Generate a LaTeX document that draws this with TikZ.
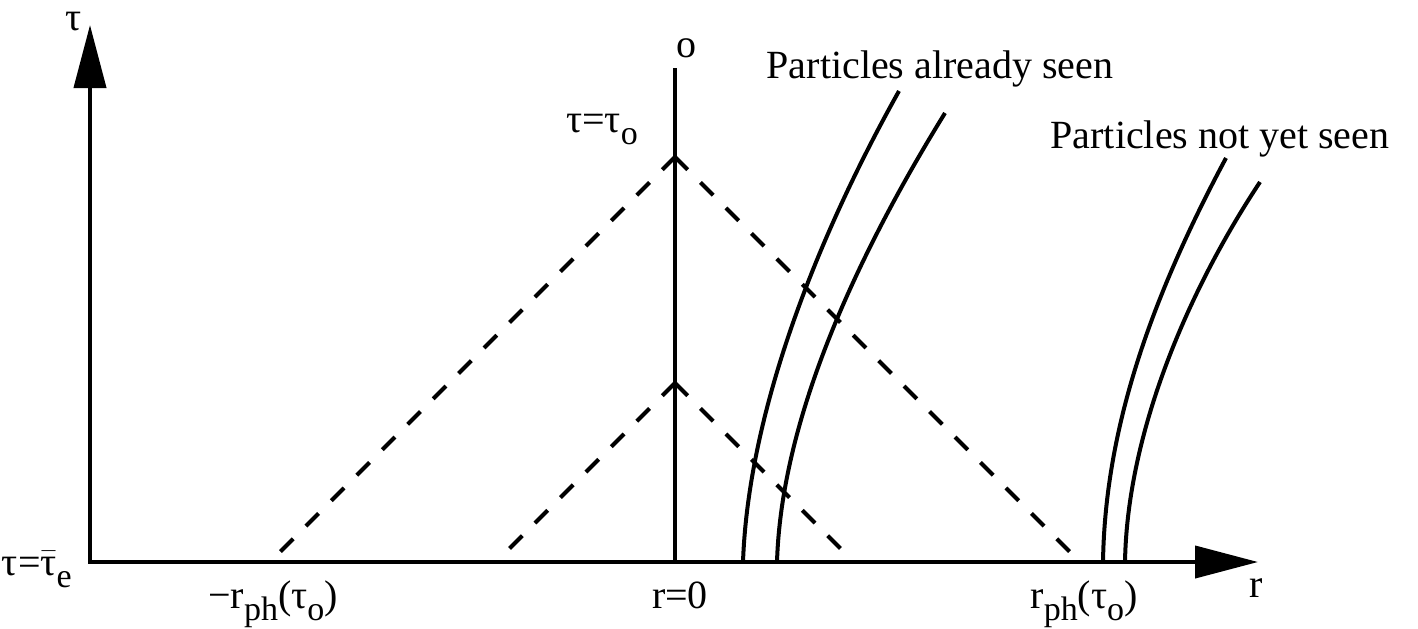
\documentclass[tikz,border=0pt]{standalone}
\usepackage{fontspec}
\setmainfont{Liberation Serif}
\usetikzlibrary{arrows.meta}
\newcommand{\lowsub}[1]{\raisebox{-6pt}{\fontsize{17}{17}\selectfont #1}}
\begin{document}
\begin{tikzpicture}[x=0.5pt,y=-0.5pt, line width=2pt,
  axes/.style={{Triangle[length=31.5pt,width=16pt]}-{Triangle[length=31.5pt,width=16pt]}, line join=miter},
  lightray/.style={dash pattern=on 9pt off 9pt},
  world/.style={line width=2pt},
  lbl/.style={inner sep=0pt, anchor=base, font=\fontsize{20}{24}\selectfont}]
\useasboundingbox (0,0) rectangle (1418,628);
% coordinates
\coordinate (O) at (90,562);
\coordinate (Ytip) at (90,25);
\coordinate (Xtip) at (1258,562);
\coordinate (Otop) at (675,68);
\coordinate (Obot) at (675,562);
\coordinate (A1) at (675,157);
\coordinate (L1) at (280,552);
\coordinate (R1) at (1070,552);
\coordinate (A2) at (675,383);
\coordinate (L2) at (505,553);
\coordinate (R2) at (845,553);
\coordinate (c1s) at (743,562);
\coordinate (c1e) at (899,91);
\coordinate (c2s) at (777,562);
\coordinate (c2e) at (945,113);
\coordinate (c3s) at (1103,562);
\coordinate (c3e) at (1226,158);
\coordinate (c4s) at (1125,562);
\coordinate (c4e) at (1260,182);
% axes
\draw[axes] (Ytip) -- (O) -- (Xtip);
% observer worldline
\draw (Obot) -- (Otop);
% light cones
\draw[lightray] (A1) -- (L1);
\draw[lightray] (A1) -- (R1);
\draw[lightray] (A2) -- (L2);
\draw[lightray] (A2) -- (R2);
% particle worldlines
\draw[world] (c1s) .. controls (748,420) and (810,250) .. (c1e);
\draw[world] (c2s) .. controls (781,430) and (845,275) .. (c2e);
\draw[world] (c3s) .. controls (1105,430) and (1150,300) .. (c3e);
\draw[world] (c4s) .. controls (1127,440) and (1182,300) .. (c4e);
% labels
\node[lbl] (taulbl) at (74,30) {τ};
\node[lbl, anchor=base west] (taue) at (0,575) {τ=$\bar{\hbox{τ}}$\lowsub{e}};
\node[lbl] (olbl) at (686,57) {o};
\node[lbl] (tauo) at (602,132) {τ=τ\lowsub{o}};
\node[lbl] (seen) at (940,78) {Particles already seen};
\node[lbl] (notseen) at (1220,148) {Particles not yet seen};
\node[lbl] (rlbl) at (1256,597) {r};
\node[lbl] (mrph) at (273,608) {−r\lowsub{ph}(τ\lowsub{o})};
\node[lbl] (r0) at (680,608) {r=0};
\node[lbl] (rph) at (1084,608) {r\lowsub{ph}(τ\lowsub{o})};
\end{tikzpicture}
\end{document}
